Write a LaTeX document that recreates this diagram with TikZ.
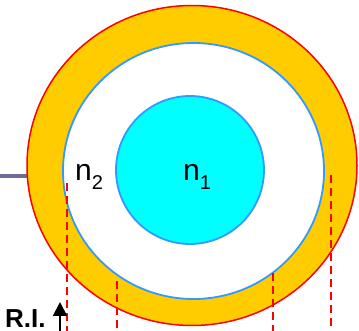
\documentclass[tikz,border=0pt]{standalone}
\usepackage{fontspec}
\setmainfont{Liberation Sans}
\usetikzlibrary{arrows.meta}
\definecolor{ringgold}{HTML}{FFCC00}
\definecolor{ringred}{HTML}{FF0000}
\definecolor{edgeblue}{HTML}{3399FF}
\definecolor{corecyan}{HTML}{00FFFF}
\definecolor{fibergray}{RGB}{107,107,160}
\tikzset{
  guide/.style={draw=ringred, line width=2.2pt, dash pattern=on 8pt off 5pt},
  idx/.style={font=\fontsize{30}{32}\selectfont, inner sep=0pt, anchor=base west},
}
\newcommand{\idxsub}[1]{\raisebox{-9pt}{\fontsize{20}{20}\selectfont #1}}
\begin{document}
\begin{tikzpicture}[x=1pt,y=-1pt]
\useasboundingbox (0,0) rectangle (359,331);
% fibre feed
\coordinate (feed) at (0,176);
\coordinate (cladedge) at (27,176);
\draw[fibergray, line width=3.2pt] (feed) -- (cladedge);
% outer ring (jacket)
\filldraw[fill=ringgold, draw=ringred, line width=1.5pt] (192,165.5) ellipse [x radius=165, y radius=160];
% cladding
\filldraw[fill=white, draw=edgeblue, line width=1.8pt] (193.5,171) ellipse [x radius=130.5, y radius=128];
% core
\filldraw[fill=corecyan, draw=edgeblue, line width=1.8pt] (190,170) circle [radius=74];
% guides
\coordinate (g1t) at (67,183);  \coordinate (g1b) at (67,331);
\coordinate (g2t) at (117,281); \coordinate (g2b) at (117,331);
\coordinate (g3t) at (273,273); \coordinate (g3b) at (273,331);
\coordinate (g4t) at (331,175); \coordinate (g4b) at (331,331);
\draw[guide] (g1t) -- (g1b);
\draw[guide] (g2t) -- (g2b);
\draw[guide] (g3t) -- (g3b);
\draw[guide] (g4t) -- (g4b);
% labels
\node[idx] (n2) at (75,181) {n\idxsub{2}};
\node[idx] (n1) at (183,181) {n\idxsub{1}};
\node[font=\fontsize{26}{28}\selectfont\bfseries, inner sep=0pt, anchor=base west] (ri) at (5,327) {R.I.};
% axis arrow
\coordinate (ax0) at (60,331);
\coordinate (ax1) at (60,302);
\draw[line width=2pt, -{Triangle[length=14pt,width=14pt]}] (ax0) -- (ax1);
\end{tikzpicture}
\end{document}
